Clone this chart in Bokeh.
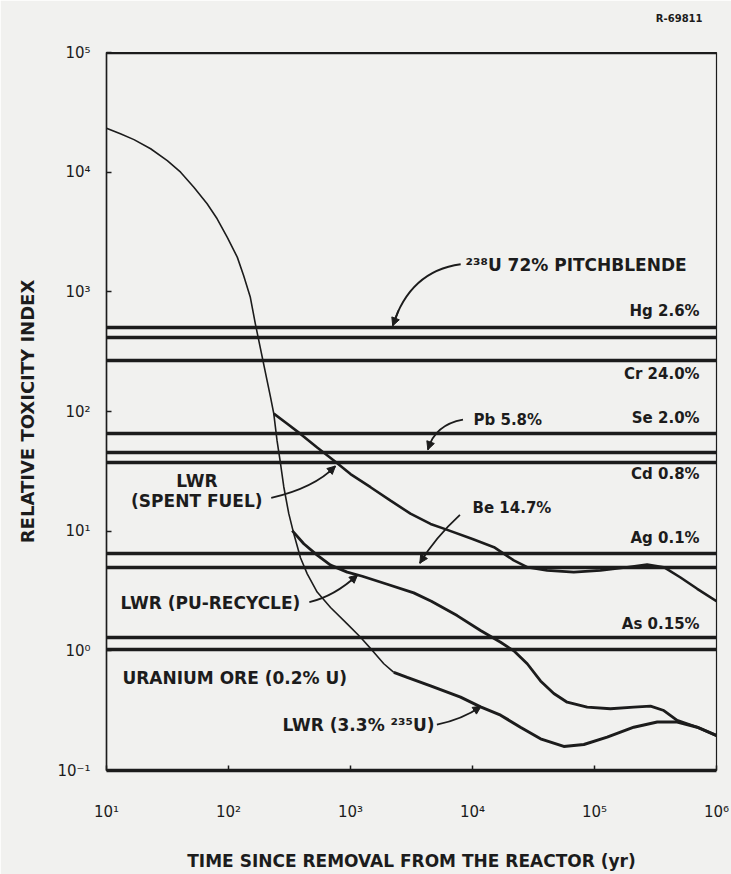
import math
from bokeh.plotting import figure
from bokeh.models import Range1d, FixedTicker, Span, Label, Arrow, NormalHead, Title
from bokeh.embed import file_html
from bokeh.resources import INLINE

# ---------------- data ----------------
X_TICKS = [10, 100, 1000, 10000, 100000, 1000000]
X_TICK_LABELS = ["10¹", "10²", "10³", "10⁴", "10⁵", "10⁶"]
Y_TICKS = [0.1, 1, 10, 100, 1000, 10000, 100000]
Y_TICK_LABELS = ["10⁻¹", "10⁰", "10¹", "10²", "10³", "10⁴", "10⁵"]

# reference ore levels (relative toxicity index)
LEVEL_NAMES = ["²³⁸U 72% PITCHBLENDE", "Hg 2.6%", "Cr 24.0%", "Se 2.0%", "Pb 5.8%",
               "Cd 0.8%", "Ag 0.1%", "Be 14.7%", "As 0.15%", "URANIUM ORE (0.2% U)"]
LEVEL_VALUES = [505, 415, 267, 65.5, 45.5, 37.5, 6.5, 5.0, 1.29, 1.03]

# LWR (3.3% 235U)
LWR33_YEARS = [10, 13.0, 16.8, 23.0, 31.5, 40.5, 52, 66.8, 80.7, 97.5, 118, 133, 151, 166,
               207, 221, 235, 250, 267, 284, 312, 343, 389, 442, 533, 686, 939, 1208,
               1553, 1875, 2265, 2915, 4530, 7980, 11640, 17000, 24700, 36100, 56000,
               81800, 127000, 210000, 327000, 476000, 695000, 1000000]
LWR33_TOX = [23300, 20900, 18700, 15700, 12500, 10000, 7480, 5440, 4080, 2860, 1950, 1370,
             900, 540, 182, 132, 96, 57, 36.6, 23.4, 14.0, 9.5, 6.0, 4.4, 3.1, 2.3, 1.68,
             1.30, 0.975, 0.78, 0.66, 0.60, 0.51, 0.41, 0.34, 0.29, 0.23, 0.184, 0.159,
             0.165, 0.19, 0.23, 0.254, 0.254, 0.23, 0.196]
LWR33_THIN_UNTIL = 2265  # upper part of the curve is drawn thin

# LWR (spent fuel)
SPENT_YEARS = [235, 303, 389, 533, 730, 1000, 1460, 2130, 3100, 4530, 5820, 10000, 15000,
               21800, 28100, 40900, 67600, 112000, 185000, 270000, 370000, 507000, 695000,
               1000000]
SPENT_TOX = [96, 79, 65, 50, 39, 30, 23.3, 18, 14.0, 11.5, 10.5, 8.6, 7.35, 5.7, 5.0, 4.7,
             4.55, 4.7, 5.0, 5.26, 5.0, 4.1, 3.3, 2.6]

# LWR (Pu-recycle)
PU_YEARS = [333, 414, 533, 686, 939, 1250, 2000, 3300, 4600, 7480, 11640, 17000, 21800,
            28100, 36100, 46400, 59700, 87100, 135000, 210000, 288000, 370000, 476000,
            695000, 1000000]
PU_TOX = [10.1, 7.85, 6.3, 5.2, 4.55, 4.2, 3.6, 3.05, 2.6, 1.97, 1.48, 1.18, 1.0, 0.78,
          0.56, 0.44, 0.372, 0.338, 0.328, 0.338, 0.345, 0.317, 0.262, 0.23, 0.196]

# ---------------- style ----------------
INK = "#1c1c1c"
BG = "#f1f1ef"
FONT = "DejaVu Sans"

p = figure(x_axis_type="log", y_axis_type="log",
           x_range=Range1d(10, 1e6), y_range=Range1d(0.1, 1e5),
           frame_width=610, frame_height=718,
           min_border_left=106, min_border_right=15, min_border_top=52, min_border_bottom=104,
           output_backend="svg", toolbar_location=None, title=None)

p.background_fill_color = BG
p.border_fill_color = BG
p.outline_line_color = INK
p.outline_line_width = 1.2
p.xgrid.visible = False
p.ygrid.visible = False

p.xaxis.ticker = FixedTicker(ticks=X_TICKS, minor_ticks=[])
p.yaxis.ticker = FixedTicker(ticks=Y_TICKS, minor_ticks=[])
p.xaxis.major_label_overrides = dict(zip(X_TICKS, X_TICK_LABELS))
p.yaxis.major_label_overrides = dict(zip(Y_TICKS, Y_TICK_LABELS))

for ax in (p.xaxis[0], p.yaxis[0]):
    ax.major_tick_in = 5
    ax.major_tick_out = 0
    ax.major_tick_line_color = INK
    ax.major_tick_line_width = 1.5
    ax.minor_tick_line_color = None
    ax.axis_line_color = INK
    ax.major_label_text_font = FONT
    ax.major_label_text_font_size = "15px"
    ax.major_label_text_color = INK
    ax.axis_label_text_font = FONT
    ax.axis_label_text_font_style = "bold"
    ax.axis_label_text_color = INK

p.xaxis.axis_line_width = 3.5
p.yaxis.axis_line_width = 1.5
p.xaxis.major_label_standoff = 32
p.yaxis.major_label_standoff = 16
p.xaxis.axis_label = "TIME SINCE REMOVAL FROM THE REACTOR (yr)"
p.xaxis.axis_label_text_font_size = "17px"
p.xaxis.axis_label_standoff = 27
p.yaxis.axis_label = "RELATIVE TOXICITY INDEX"
p.yaxis.axis_label_text_font_size = "18px"
p.yaxis.axis_label_standoff = 16

# spacer title (nearest the frame) lifts the drawing number to the top right corner
p.add_layout(Title(text=" ", text_font_size="10px", standoff=16), "above")
p.add_layout(Title(text="R-69811", align="right", text_font=FONT, text_font_size="10px",
                   text_font_style="bold", text_color=INK, standoff=0, offset=14), "above")

# heavy top border of the frame
p.add_layout(Span(location=1e5, dimension="width", line_color=INK, line_width=3.5))

# ore reference levels
p.hspan(y=LEVEL_VALUES, line_color=INK, line_width=3.5)

# curves
thin_n = sum(1 for yr in LWR33_YEARS if yr <= LWR33_THIN_UNTIL)
p.line(LWR33_YEARS[:thin_n], LWR33_TOX[:thin_n], line_color=INK, line_width=1.6)
p.line(LWR33_YEARS[thin_n - 1:], LWR33_TOX[thin_n - 1:], line_color=INK, line_width=3)
p.line(SPENT_YEARS, SPENT_TOX, line_color=INK, line_width=2.6)
p.line(PU_YEARS, PU_TOX, line_color=INK, line_width=2.8)

# ---------------- annotations ----------------
def add_label(text, x, y, align="left", size="15px"):
    p.add_layout(Label(x=x, y=y, text=text, text_align=align, text_baseline="middle",
                       text_font=FONT, text_font_style="bold", text_font_size=size,
                       text_color=INK))

RX = 7.27e5
add_label(LEVEL_NAMES[0], 8770, 1660, "left", "17px")
add_label(LEVEL_NAMES[1], RX, 686, "right")
add_label(LEVEL_NAMES[2], RX, 204, "right")
add_label(LEVEL_NAMES[3], RX, 87.5, "right")
add_label(LEVEL_NAMES[4], 10190, 84.1, "left")
add_label(LEVEL_NAMES[5], RX, 30.3, "right")
add_label(LEVEL_NAMES[6], RX, 8.69, "right")
add_label(LEVEL_NAMES[7], 10000, 15.5, "left")
add_label(LEVEL_NAMES[8], RX, 1.69, "right")
add_label(LEVEL_NAMES[9], 13.5, 0.598, "left", "17px")
add_label("LWR", 55, 26.5, "center", "17px")
add_label("(SPENT FUEL)", 55, 18.0, "center", "17px")
add_label("LWR (PU-RECYCLE)", 13.0, 2.49, "left", "17px")
add_label("LWR (3.3% ²³⁵U)", 277, 0.238, "left", "17px")

# curved leader arrows: (start, control, end) in data space
LEADERS = [
    ((8000, 1700), (3060, 1489), (2218, 520)),
    ((8356, 85.5), (4911, 77.6), (4305, 48)),
    ((224, 19.0), (505, 23.0), (753, 35)),
    ((7889, 13.7), (4911, 8.77), (3698, 5.4)),
    ((460, 2.55), (738, 2.86), (1142, 4.3)),
    ((5105, 0.242), (8200, 0.267), (11749, 0.343)),
]
p.quadratic(x0=[l[0][0] for l in LEADERS], y0=[l[0][1] for l in LEADERS],
            x1=[l[2][0] for l in LEADERS], y1=[l[2][1] for l in LEADERS],
            cx=[l[1][0] for l in LEADERS], cy=[l[1][1] for l in LEADERS],
            line_color=INK, line_width=1.8)

def bez_log(p0, c, p1, t):
    out = []
    for i in range(2):
        a, b, d = math.log10(p0[i]), math.log10(c[i]), math.log10(p1[i])
        v = (1 - t) ** 2 * a + 2 * (1 - t) * t * b + t ** 2 * d
        out.append(10 ** v)
    return out

for p0, c, p1 in LEADERS:
    sx, sy = bez_log(p0, c, p1, 0.85)
    p.add_layout(Arrow(x_start=sx, y_start=sy, x_end=p1[0], y_end=p1[1],
                       line_color=INK, line_width=1.8,
                       end=NormalHead(size=8, fill_color=INK, line_color=INK)))

open("out.html", "w").write(file_html(p, INLINE))
